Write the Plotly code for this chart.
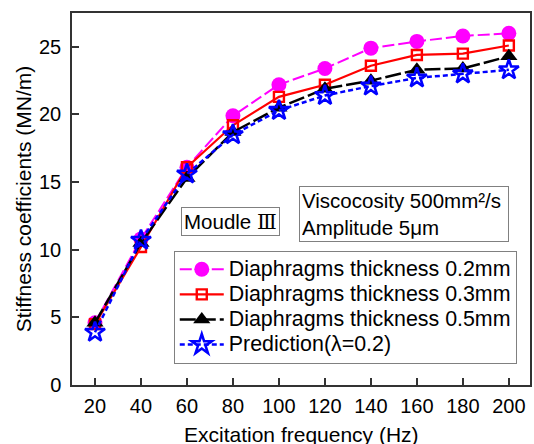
import plotly.graph_objects as go

# Excitation frequency (Hz)
freq = [20, 40, 60, 80, 100, 120, 140, 160, 180, 200]

# Stiffness coefficients (MN/m) for each diaphragm thickness
k_02mm = [4.6, 10.8, 16.1, 19.9, 22.2, 23.4, 24.9, 25.4, 25.8, 26.0]
k_03mm = [4.5, 10.2, 16.1, 19.2, 21.3, 22.2, 23.6, 24.4, 24.5, 25.1]
k_05mm = [4.6, 10.5, 15.3, 18.7, 20.5, 21.9, 22.5, 23.3, 23.4, 24.3]
k_pred = [3.9, 10.7, 15.6, 18.5, 20.3, 21.4, 22.1, 22.7, 23.0, 23.3]

names = [
    "Diaphragms thickness 0.2mm",
    "Diaphragms thickness 0.3mm",
    "Diaphragms thickness 0.5mm",
    "Prediction(λ=0.2)",
]

x_ticks = [20, 40, 60, 80, 100, 120, 140, 160, 180, 200]
y_ticks = [0, 5, 10, 15, 20, 25]

FONT = "Liberation Sans, Arial, sans-serif"


def legend_label(s):
    # larger glyphs inside a tighter legend row pitch
    return f"<span style='font-size:21.4px'>{s}</span>"


fig = go.Figure()

fig.add_trace(go.Scatter(
    x=freq, y=k_02mm, name=legend_label(names[0]), mode="lines+markers",
    line=dict(color="#FF00FF", width=2, dash="12px,4px"),
    marker=dict(symbol="circle", size=15, color="#FF00FF"),
))
fig.add_trace(go.Scatter(
    x=freq, y=k_03mm, name=legend_label(names[1]), mode="lines+markers",
    line=dict(color="#FF0000", width=2.2),
    marker=dict(symbol="square-open", size=10, color="#FF0000",
                line=dict(color="#FF0000", width=2.4)),
))
fig.add_trace(go.Scatter(
    x=freq, y=k_05mm, name=legend_label(names[2]), mode="lines+markers",
    line=dict(color="#000000", width=2.5, dash="16px,4px"),
    marker=dict(symbol="triangle-up", size=15, color="#000000"),
))
fig.add_trace(go.Scatter(
    x=freq, y=k_pred, name=legend_label(names[3]), mode="lines+markers",
    line=dict(color="#0000FF", width=2.5, dash="5px,3px"),
    marker=dict(symbol="star-open", size=15, color="#0000FF",
                line=dict(color="#0000FF", width=2.6)),
))

fig.add_annotation(
    x=0.345, y=0.4387, xref="paper", yref="paper",
    xanchor="center", yanchor="middle", showarrow=False,
    text="Moudle <span style=\"font-family:'Liberation Serif', 'DejaVu Serif', serif\">Ⅲ</span>",
    font=dict(family=FONT, size=20.5, color="#000000"),
    bordercolor="#808080", borderwidth=1, borderpad=2, bgcolor="white",
)
fig.add_annotation(
    x=0.7259, y=0.4602, xref="paper", yref="paper",
    xanchor="center", yanchor="middle", showarrow=False, align="left",
    width=204,
    text="Viscocosity 500mm²/s<br>Amplitude 5μm",
    font=dict(family=FONT, size=20.5, color="#000000"),
    bordercolor="#808080", borderwidth=1, borderpad=2, bgcolor="white",
)
# x-axis title, set just below the tick labels
fig.add_annotation(
    x=0.5, y=-0.098, xref="paper", yref="paper",
    xanchor="center", yanchor="top", showarrow=False,
    text="Excitation frequency (Hz)",
    font=dict(family=FONT, size=21, color="#000000"),
)

fig.update_layout(
    width=534, height=444,
    margin=dict(l=72, r=2, t=13, b=58.5),
    paper_bgcolor="white", plot_bgcolor="white",
    font=dict(family=FONT, size=20, color="#000000"),
    showlegend=True,
    legend=dict(
        x=0.2222, y=0.361, xanchor="left", yanchor="top",
        bordercolor="#808080", borderwidth=1, bgcolor="white",
        font=dict(family=FONT, size=17, color="#000000"),
        itemwidth=44, tracegroupgap=0,
    ),
)

fig.update_xaxes(
    range=[10, 209.2], tickvals=x_ticks, ticks="inside", ticklen=7, tickwidth=1.5,
    tickcolor="#333333", showline=True, linecolor="#333333", linewidth=1.5,
    mirror=True, showgrid=False, zeroline=False, ticklabelstandoff=2,
    tickfont=dict(family=FONT, size=20),
)
fig.update_yaxes(
    range=[0, 27.5], tickvals=y_ticks, ticks="inside", ticklen=7, tickwidth=1.5,
    tickcolor="#333333", showline=True, linecolor="#333333", linewidth=1.5,
    mirror=True, showgrid=False, zeroline=False, ticklabelstandoff=5,
    tickfont=dict(family=FONT, size=20),
    title=dict(text="Stiffness coefficients (MN/m)", font=dict(family=FONT, size=21), standoff=2),
)

fig.write_html("out.html")
